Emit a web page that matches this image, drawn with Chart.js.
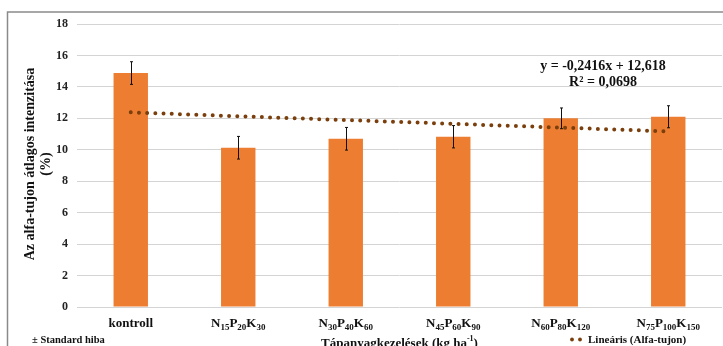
<!DOCTYPE html>
<html>
<head>
<meta charset="utf-8">
<script src="https://cdn.jsdelivr.net/npm/chart.js@4"></script>
<style>
  html, body { margin: 0; padding: 0; background: #fff; }
  #wrap { width: 723px; height: 346px; }
</style>
</head>
<body>
<div id="wrap"><canvas id="grafikon" width="723" height="346"></canvas></div>
<script>
// kezelések (kategóriák) - a számok alsó indexként jelennek meg
const kezelesek = ['kontroll', 'N15P20K30', 'N30P40K60', 'N45P60K90', 'N60P80K120', 'N75P100K150'];
// átlagos intenzitás (%)
const atlag = [14.88, 10.13, 10.7, 10.83, 12.0, 12.1];
// standard hiba
const hiba = [0.72, 0.72, 0.72, 0.71, 0.66, 0.7];
// lineáris trend pontjai (y = -0,2416x + 12,618)
const trend = [12.38, 12.13, 11.89, 11.65, 11.41, 11.17];
const yTicks = [0, 2, 4, 6, 8, 10, 12, 14, 16, 18];

const betu = 'Liberation Serif, Times New Roman, serif';

// címke rajzolása alsó indexekkel (számok -> subscript)
function cimke(ctx, txt, cx, y, size) {
  const reszek = txt.match(/[A-Za-z]+|\d+/g);
  const big = 'bold ' + size + 'px ' + betu;
  const small = 'bold ' + Math.round(size * 0.68) + 'px ' + betu;
  let w = 0;
  reszek.forEach(r => {
    ctx.font = /\d/.test(r) ? small : big;
    w += ctx.measureText(r).width;
  });
  let x = cx - w / 2;
  ctx.textAlign = 'left';
  reszek.forEach(r => {
    const sub = /\d/.test(r);
    ctx.font = sub ? small : big;
    ctx.fillText(r, x, sub ? y + 3 : y);
    x += ctx.measureText(r).width;
  });
}

const rajzolo = {
  id: 'rajzolo',
  beforeDraw(chart) {
    const c = chart.ctx;
    c.save();
    c.strokeStyle = '#8a8a8a';
    c.lineWidth = 1.5;
    c.strokeRect(7.5, 12, 800, 400);
    c.restore();
  },
  afterDatasetsDraw(chart) {
    const c = chart.ctx;
    const xs = chart.scales.x, ys = chart.scales.y;
    // hibasávok
    c.save();
    c.strokeStyle = '#111';
    c.lineWidth = 1;
    atlag.forEach((v, i) => {
      const x = Math.round(xs.getPixelForValue(i)) + 0.5;
      const y1 = ys.getPixelForValue(v + hiba[i]);
      const y2 = ys.getPixelForValue(v - hiba[i]);
      c.beginPath();
      c.moveTo(x, y1); c.lineTo(x, y2);
      c.moveTo(x - 1.5, y1); c.lineTo(x + 1.5, y1);
      c.moveTo(x - 1.5, y2); c.lineTo(x + 1.5, y2);
      c.stroke();
    });
    c.restore();
  },
  afterDraw(chart) {
    const c = chart.ctx;
    const xs = chart.scales.x;
    c.save();
    c.fillStyle = '#111';
    c.textBaseline = 'alphabetic';
    // x tengely címkék
    kezelesek.forEach((k, i) => {
      cimke(c, k, xs.getPixelForValue(i), 327, 13);
    });
    // x tengely címe
    const t1 = 'Tápanyagkezelések (kg ha';
    const t2 = ')';
    c.font = 'bold 13px ' + betu;
    const w1 = c.measureText(t1).width;
    c.font = 'bold 8px ' + betu;
    const ws = c.measureText('-1').width;
    c.font = 'bold 13px ' + betu;
    const w2 = c.measureText(t2).width;
    let x0 = (chart.chartArea.left + chart.chartArea.right) / 2 - (w1 + ws + w2) / 2;
    c.textAlign = 'left';
    c.fillText(t1, x0, 347);
    c.font = 'bold 8px ' + betu;
    c.fillText('-1', x0 + w1, 341);
    c.font = 'bold 13px ' + betu;
    c.fillText(t2, x0 + w1 + ws, 347);
    // y tengely címe
    c.save();
    c.translate(30, 164);
    c.rotate(-Math.PI / 2);
    c.textAlign = 'center';
    c.textBaseline = 'middle';
    c.font = 'bold 14px ' + betu;
    c.fillText('Az alfa-tujon átlagos intenzitása', 0, 0);
    c.fillText('(%)', 0, 16);
    c.restore();
    // egyenlet
    c.textAlign = 'center';
    c.font = 'bold 14px ' + betu;
    c.fillText('y = -0,2416x + 12,618', 603, 70);
    c.fillText('R² = 0,0698', 603, 86);
    // jelmagyarázat
    c.textAlign = 'left';
    c.font = 'bold 10.5px ' + betu;
    c.fillText('± Standard hiba', 32, 343);
    c.font = 'bold 11px ' + betu;
    c.fillText('Lineáris (Alfa-tujon)', 588, 343);
    c.fillStyle = '#7a3f0c';
    [572, 580].forEach(px => {
      c.beginPath();
      c.arc(px, 339.5, 1.9, 0, Math.PI * 2);
      c.fill();
    });
    c.restore();
  }
};

const ctx = document.getElementById('grafikon').getContext('2d');
const grafikon = new Chart(ctx, {
  type: 'bar',
  data: {
    labels: kezelesek,
    datasets: [
      {
        label: 'Alfa-tujon',
        data: atlag,
        backgroundColor: '#ED7D31',
        borderWidth: 0,
        categoryPercentage: 1,
        barPercentage: 0.32,
        order: 2
      },
      {
        type: 'line',
        label: 'Lineáris (Alfa-tujon)',
        data: trend,
        borderColor: '#7a3f0c',
        borderWidth: 4,
        borderDash: [0, 8.2],
        borderCapStyle: 'round',
        pointRadius: 0,
        fill: false,
        tension: 0,
        order: 1
      }
    ]
  },
  options: {
    responsive: false,
    animation: false,
    layout: { padding: { left: 0, right: 1, top: 24, bottom: 31 } },
    plugins: {
      legend: { display: false },
      tooltip: { enabled: false }
    },
    scales: {
      x: {
        offset: true,
        ticks: { display: false },
        grid: { display: false },
        border: { display: false }
      },
      y: {
        min: 0,
        max: 18,
        afterFit(scale) { scale.width = 77; },
        afterBuildTicks(scale) { scale.ticks = yTicks.map(v => ({ value: v })); },
        ticks: {
          padding: 9,
          color: '#222',
          font: { family: betu, size: 12, weight: 'bold' }
        },
        grid: { color: '#d4d4d4', lineWidth: 1, drawTicks: false },
        border: { display: false }
      }
    }
  },
  plugins: [rajzolo]
});
</script>
</body>
</html>
